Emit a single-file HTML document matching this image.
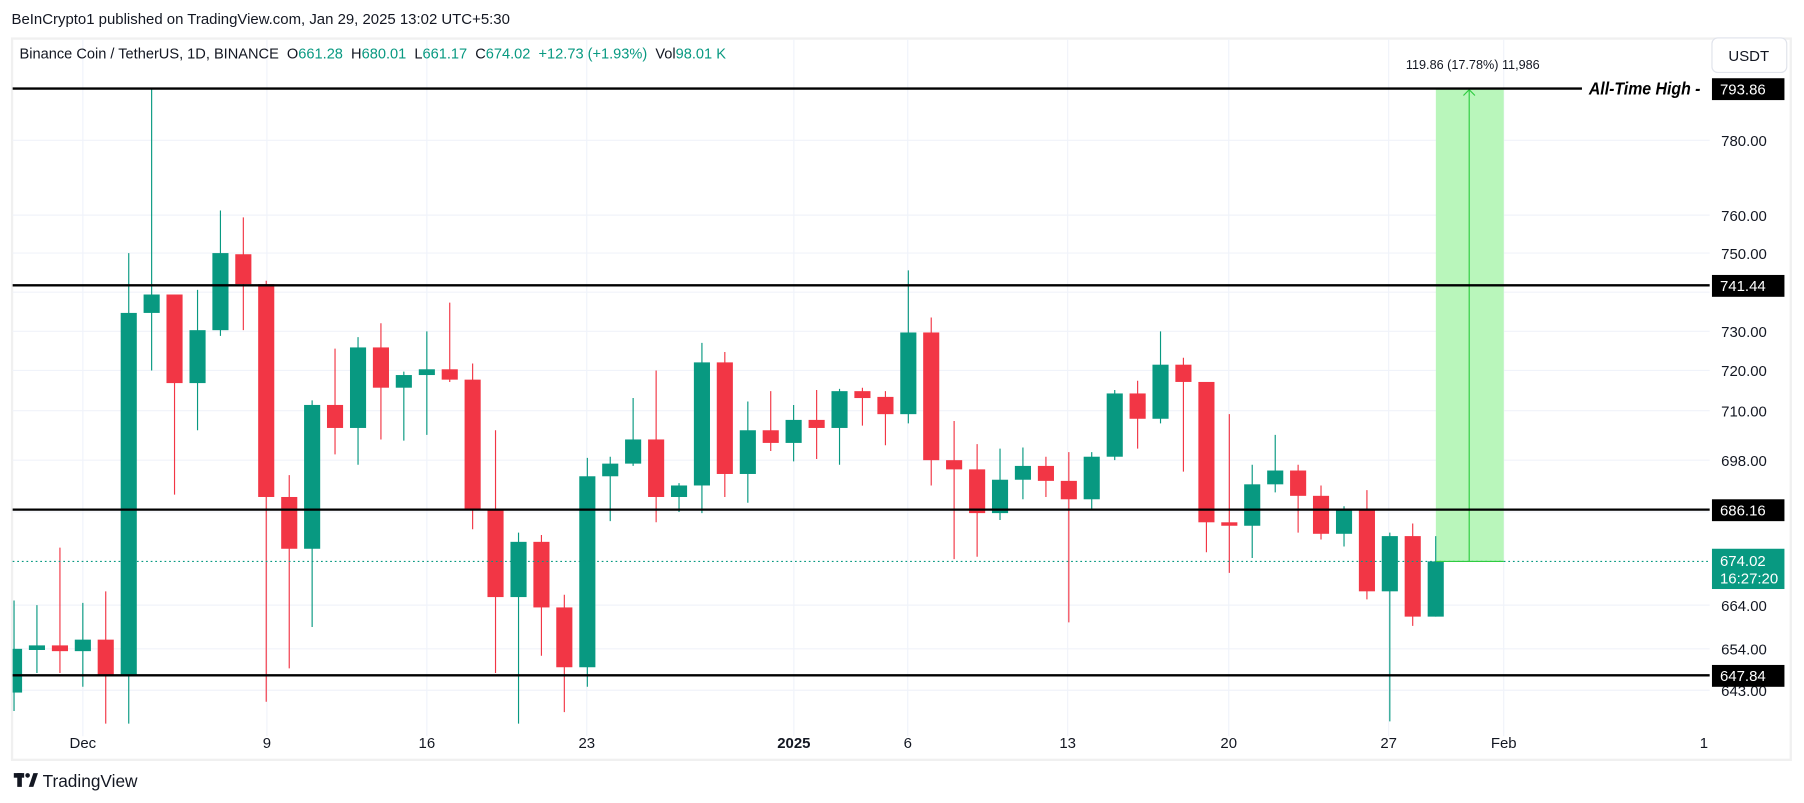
<!DOCTYPE html>
<html><head><meta charset="utf-8"><style>
html,body{margin:0;padding:0;background:#fff;}
svg{display:block;font-family:"Liberation Sans",sans-serif;}
</style></head><body>
<svg width="1804" height="803" viewBox="0 0 1568 698" preserveAspectRatio="none" xmlns="http://www.w3.org/2000/svg">
<rect width="1568" height="698" fill="#fff"/>
<text x="10" y="21" font-size="13" fill="#131722">BeInCrypto1 published on TradingView.com, Jan 29, 2025 13:02 UTC+5:30</text>
<rect x="10.5" y="33.5" width="1546" height="627" fill="none" stroke="#f0f0f0" stroke-width="2"/>
<g stroke="#f0f3fa" stroke-width="1">
<line x1="11" y1="122" x2="1486" y2="122"/><line x1="11" y1="187" x2="1486" y2="187"/><line x1="11" y1="220" x2="1486" y2="220"/><line x1="11" y1="254" x2="1486" y2="254"/><line x1="11" y1="288" x2="1486" y2="288"/><line x1="11" y1="322" x2="1486" y2="322"/><line x1="11" y1="357" x2="1486" y2="357"/><line x1="11" y1="400" x2="1486" y2="400"/><line x1="11" y1="445" x2="1486" y2="445"/><line x1="11" y1="526" x2="1486" y2="526"/><line x1="11" y1="564" x2="1486" y2="564"/><line x1="11" y1="600" x2="1486" y2="600"/>
<line x1="72" y1="34" x2="72" y2="640"/><line x1="232" y1="34" x2="232" y2="640"/><line x1="371" y1="34" x2="371" y2="640"/><line x1="510" y1="34" x2="510" y2="640"/><line x1="690" y1="34" x2="690" y2="640"/><line x1="789" y1="34" x2="789" y2="640"/><line x1="928" y1="34" x2="928" y2="640"/><line x1="1068" y1="34" x2="1068" y2="640"/><line x1="1207" y1="34" x2="1207" y2="640"/><line x1="1307" y1="34" x2="1307" y2="640"/>
</g>
<text x="17" y="51" font-size="13" fill="#131722" textLength="614" lengthAdjust="spacingAndGlyphs">Binance Coin / TetherUS, 1D, BINANCE &#160;O<tspan fill="#089981">661.28</tspan> &#160;H<tspan fill="#089981">680.01</tspan> &#160;L<tspan fill="#089981">661.17</tspan> &#160;C<tspan fill="#089981">674.02 &#160;+12.73 (+1.93%)</tspan> &#160;Vol<tspan fill="#089981">98.01 K</tspan></text>
<rect x="1488" y="33" width="65" height="30" rx="5" fill="#fff" stroke="#e0e3eb"/>
<text x="1520" y="53" font-size="13" fill="#131722" text-anchor="middle">USDT</text>
<rect x="1248" y="77" width="59" height="411" fill="#b9f6bb" />
<line x1="1277" y1="488" x2="1277" y2="78" stroke="#2ecc40" stroke-width="1"/>
<polyline points="1272,83 1277,78 1282,83" fill="none" stroke="#2ecc40"/>

<path stroke="#089981" stroke-width="1" fill="none" d="M12.2 522V618M32.1 526V585M72 524V597M111.9 220V629M131.8 77V322M171.7 252V374M191.6 183V292M271.3 348V545M311.2 293V404M351 323V383M371 288V378M450.7 463V629M510.5 398V597M530.4 397V453M550.3 346V405M590.2 420V445M610.1 298V446M650 349V437M689.8 352V401M729.7 338V404M789.5 235V368M869.2 390V452M889.1 389V434M948.9 393V442M968.9 339V400M1008.7 288V368M1088.4 404V485M1108.4 378V428M1168.2 440V475M1208 463V627M1247.9 466V536"/>
<path stroke="#f23645" stroke-width="1" fill="none" d="M52.1 476V585M91.9 514V629M151.7 256V430M211.5 189V287M231.4 244V610M251.4 413V581M291.2 303V395M331.1 281V382M390.9 263V332M410.8 316V460M430.7 374V585M470.6 465V570M490.5 517V619M570.3 322V454M630 306V432M669.9 340V392M709.8 339V399M749.6 337V370M769.6 340V387M809.4 276V422M829.3 366V486M849.3 386V484M909.1 397V432M929 393V541M988.8 331V390M1028.6 311V410M1048.6 332V480M1068.5 360V498M1128.3 404V463M1148.2 422V469M1188.1 426V521M1227.9 455V544"/>
<g fill="#089981">
<rect x="11" y="564" width="8.2" height="38"/><rect x="25.1" y="561" width="14" height="4"/><rect x="65" y="556" width="14" height="10"/><rect x="104.9" y="272" width="14" height="315"/><rect x="124.8" y="256" width="14" height="16"/><rect x="164.7" y="287" width="14" height="46"/><rect x="184.6" y="220" width="14" height="67"/><rect x="264.3" y="352" width="14" height="125"/><rect x="304.2" y="302" width="14" height="70"/><rect x="344" y="326" width="14" height="11"/><rect x="364" y="321" width="14" height="5"/><rect x="443.7" y="471" width="14" height="48"/><rect x="503.5" y="414" width="14" height="166"/><rect x="523.4" y="403" width="14" height="11"/><rect x="543.3" y="382" width="14" height="21"/><rect x="583.2" y="422" width="14" height="10"/><rect x="603.1" y="315" width="14" height="107"/><rect x="643" y="374" width="14" height="38"/><rect x="682.8" y="365" width="14" height="20"/><rect x="722.7" y="340" width="14" height="32"/><rect x="782.5" y="289" width="14" height="71"/><rect x="862.2" y="417" width="14" height="29"/><rect x="882.1" y="405" width="14" height="12"/><rect x="941.9" y="397" width="14" height="37"/><rect x="961.9" y="342" width="14" height="55"/><rect x="1001.7" y="317" width="14" height="47"/><rect x="1081.4" y="421" width="14" height="36"/><rect x="1101.4" y="409" width="14" height="12"/><rect x="1161.2" y="443" width="14" height="21"/><rect x="1201" y="466" width="14" height="48"/><rect x="1240.9" y="488" width="14" height="48"/>
</g>
<g fill="#f23645">
<rect x="45.1" y="561" width="14" height="5"/><rect x="84.9" y="556" width="14" height="32"/><rect x="144.7" y="256" width="14" height="77"/><rect x="204.5" y="221" width="14" height="26"/><rect x="224.4" y="247" width="14" height="185"/><rect x="244.4" y="432" width="14" height="45"/><rect x="284.2" y="352" width="14" height="20"/><rect x="324.1" y="302" width="14" height="35"/><rect x="383.9" y="321" width="14" height="9"/><rect x="403.8" y="330" width="14" height="113"/><rect x="423.7" y="443" width="14" height="76"/><rect x="463.6" y="471" width="14" height="57"/><rect x="483.5" y="528" width="14" height="52"/><rect x="563.3" y="382" width="14" height="50"/><rect x="623" y="315" width="14" height="97"/><rect x="662.9" y="374" width="14" height="11"/><rect x="702.8" y="365" width="14" height="7"/><rect x="742.6" y="340" width="14" height="6"/><rect x="762.6" y="345" width="14" height="15"/><rect x="802.4" y="289" width="14" height="111"/><rect x="822.3" y="400" width="14" height="8"/><rect x="842.3" y="408" width="14" height="38"/><rect x="902.1" y="405" width="14" height="13"/><rect x="922" y="418" width="14" height="16"/><rect x="981.8" y="342" width="14" height="22"/><rect x="1021.6" y="317" width="14" height="15"/><rect x="1041.6" y="332" width="14" height="122"/><rect x="1061.5" y="454" width="14" height="3"/><rect x="1121.3" y="409" width="14" height="22"/><rect x="1141.2" y="431" width="14" height="33"/><rect x="1181.1" y="443" width="14" height="71"/><rect x="1220.9" y="466" width="14" height="70"/>
</g>

<line x1="11" y1="488" x2="1486" y2="488" stroke="#089981" stroke-dasharray="1.5,2.5" stroke-width="1"/>
<line x1="1248" y1="488" x2="1307" y2="488" stroke="#2ecc40"/>
<g stroke="#000" stroke-width="2">
<line x1="11" y1="77" x2="1375" y2="77"/><line x1="11" y1="248" x2="1486" y2="248"/><line x1="11" y1="443" x2="1486" y2="443"/><line x1="11" y1="587" x2="1486" y2="587"/>
</g>
<text x="1222" y="60" font-size="11" fill="#131722">119.86 (17.78%) 11,986</text>
<text x="1381" y="82" font-size="15" font-weight="bold" font-style="italic" fill="#000" textLength="97" lengthAdjust="spacingAndGlyphs">All-Time High -</text>
<g font-size="13" fill="#131722">
<text x="1496" y="127">780.00</text><text x="1496" y="192">760.00</text><text x="1496" y="225">750.00</text><text x="1496" y="293">730.00</text><text x="1496" y="327">720.00</text><text x="1496" y="362">710.00</text><text x="1496" y="405">698.00</text><text x="1496" y="531">664.00</text><text x="1496" y="569">654.00</text><text x="1496" y="605">643.00</text>
</g>
<g font-size="13" fill="#fff">
<rect x="1488" y="68" width="63" height="19" fill="#000"/><text x="1495" y="82">793.86</text>
<rect x="1488" y="239" width="63" height="19" fill="#000"/><text x="1495" y="253">741.44</text>
<rect x="1488" y="434" width="63" height="19" fill="#000"/><text x="1495" y="448">686.16</text>
<rect x="1488" y="578" width="63" height="19" fill="#000"/><text x="1495" y="592">647.84</text>
<rect x="1488" y="477" width="63" height="35" fill="#089981"/><text x="1495" y="492">674.02</text><text x="1495" y="507">16:27:20</text>
</g>
<g font-size="13" fill="#131722" text-anchor="middle">
<text x="72" y="650">Dec</text><text x="232" y="650">9</text><text x="371" y="650">16</text><text x="510" y="650">23</text><text x="690" y="650" font-weight="bold">2025</text><text x="789" y="650">6</text><text x="928" y="650">13</text><text x="1068" y="650">20</text><text x="1207" y="650">27</text><text x="1307" y="650">Feb</text><text x="1481" y="650">1</text>
</g>
<g fill="#131722"><rect x="12" y="672" width="9" height="4"/><rect x="15" y="672" width="4" height="12"/><circle cx="24" cy="674" r="2"/><polygon points="25,684 29,672 33,672 29,684"/></g>
<text x="37" y="684" font-size="15" fill="#131722">TradingView</text>
</svg>
</body></html>
